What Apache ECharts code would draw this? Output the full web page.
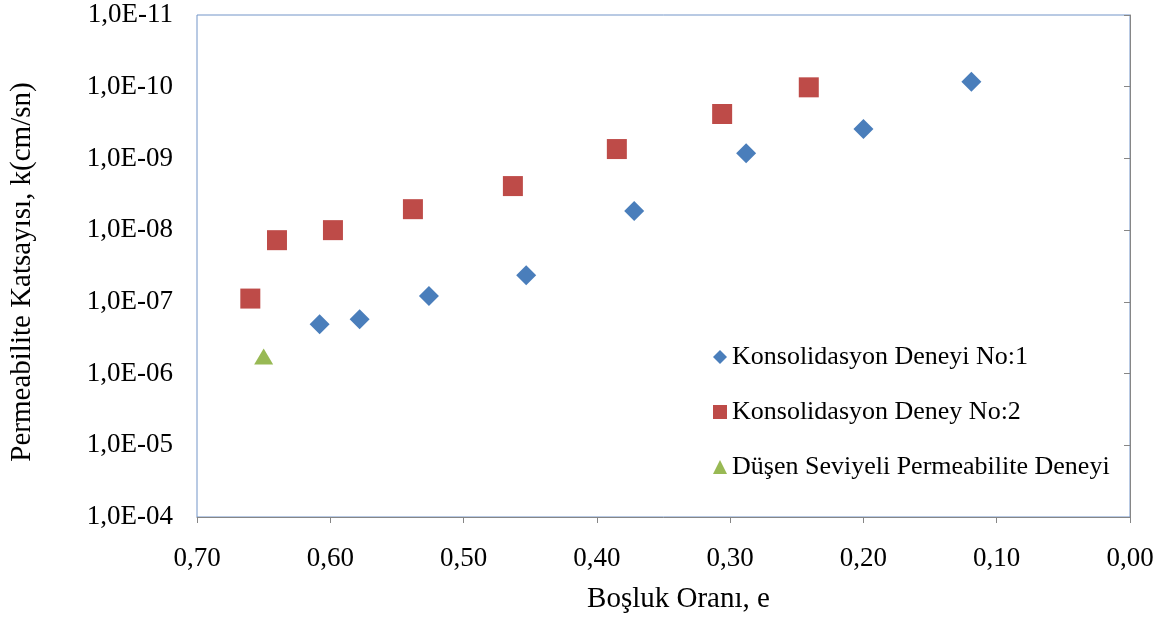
<!DOCTYPE html>
<html>
<head>
<meta charset="utf-8">
<script src="https://cdn.jsdelivr.net/npm/echarts@6/dist/echarts.min.js"></script>
<style>html,body{margin:0;padding:0;background:#fff}#c{width:1164px;height:621px}</style>
</head>
<body>
<div id="c"></div>
<script>
// Series names
const seriesNames = ['Konsolidasyon Deneyi No:1', 'Konsolidasyon Deney No:2', 'Düşen Seviyeli Permeabilite Deneyi'];
// Void ratio (e) values and permeability (k) values
const e1 = [0.608, 0.578, 0.526, 0.453, 0.372, 0.288, 0.200, 0.119];
const k1 = [2.05e-7, 1.75e-7, 8.3e-8, 4.25e-8, 5.4e-9, 8.5e-10, 3.9e-10, 8.5e-11];
const e2 = [0.660, 0.640, 0.598, 0.538, 0.463, 0.385, 0.306, 0.241];
const k2 = [9.0e-8, 1.38e-8, 1.0e-8, 5.1e-9, 2.43e-9, 7.4e-10, 2.4e-10, 1.02e-10];
const e3 = [0.650];
const k3 = [5.8e-7];
const xTitle = 'Boşluk Oranı, e';
const yTitle = 'Permeabilite Katsayısı, k(cm/sn)';

const pair = (xs, ys) => xs.map((x, i) => [x, ys[i]]);
const font = '"Liberation Serif", "Times New Roman", serif';

const chart = echarts.init(document.getElementById('c'), null, {renderer: 'canvas'});
chart.setOption({
  backgroundColor: '#fff',
  animation: false,
  grid: {left: 197, top: 15, right: 34, bottom: 104, show: true, borderColor: '#7295C8', borderWidth: 1,
         backgroundColor: 'transparent', containLabel: false, outerBoundsMode: 'none'},
  legend: {
    orient: 'vertical', left: 713, top: 344, padding: 0, itemGap: 29,
    itemWidth: 14, itemHeight: 14,
    textStyle: {fontFamily: font, fontSize: 26, color: '#000', lineHeight: 26},
    data: [
      {name: seriesNames[0], icon: 'diamond'},
      {name: seriesNames[1], icon: 'rect'},
      {name: seriesNames[2], icon: 'triangle'}
    ]
  },
  xAxis: {
    type: 'value', min: 0, max: 0.7, interval: 0.1, inverse: true,
    name: xTitle, nameLocation: 'middle', nameGap: 68,
    nameTextStyle: {fontFamily: font, fontSize: 29, color: '#000', padding: [0, 0, 0, 30]},
    axisLine: {show: true, lineStyle: {color: '#868686', width: 1}},
    axisTick: {show: true, length: 6, lineStyle: {color: '#868686'}},
    axisLabel: {fontFamily: font, fontSize: 27, color: '#000', margin: 28,
      formatter: v => v.toFixed(2).replace('.', ',')},
    splitLine: {show: false}
  },
  yAxis: {
    type: 'log', logBase: 10, min: 1e-11, max: 1e-4, interval: 1, inverse: true,
    name: yTitle, nameLocation: 'middle', nameGap: 160,
    nameTextStyle: {fontFamily: font, fontSize: 29, color: '#000', padding: [0, 12, 0, 0]},
    axisLine: {show: true, lineStyle: {color: '#868686', width: 1}},
    axisTick: {show: true, length: 6, lineStyle: {color: '#868686'}},
    axisLabel: {fontFamily: font, fontSize: 27, color: '#000', margin: 24,
      formatter: v => {
        const ex = Math.round(Math.log10(v));
        const a = Math.abs(ex);
        return '1,0E' + (ex < 0 ? '-' : '+') + (a < 10 ? '0' + a : a);
      }},
    splitLine: {show: false}
  },
  series: [
    {name: seriesNames[0], type: 'scatter', symbol: 'diamond', symbolSize: 20,
     itemStyle: {color: '#4A7EBB', opacity: 1}, data: pair(e1, k1)},
    {name: seriesNames[1], type: 'scatter', symbol: 'rect', symbolSize: 20,
     itemStyle: {color: '#BE4B48', opacity: 1}, data: pair(e2, k2)},
    {name: seriesNames[2], type: 'scatter', symbol: 'triangle', symbolSize: [19, 16],
     itemStyle: {color: '#98B954', opacity: 1}, data: pair(e3, k3)}
  ]
});
</script>
</body>
</html>
